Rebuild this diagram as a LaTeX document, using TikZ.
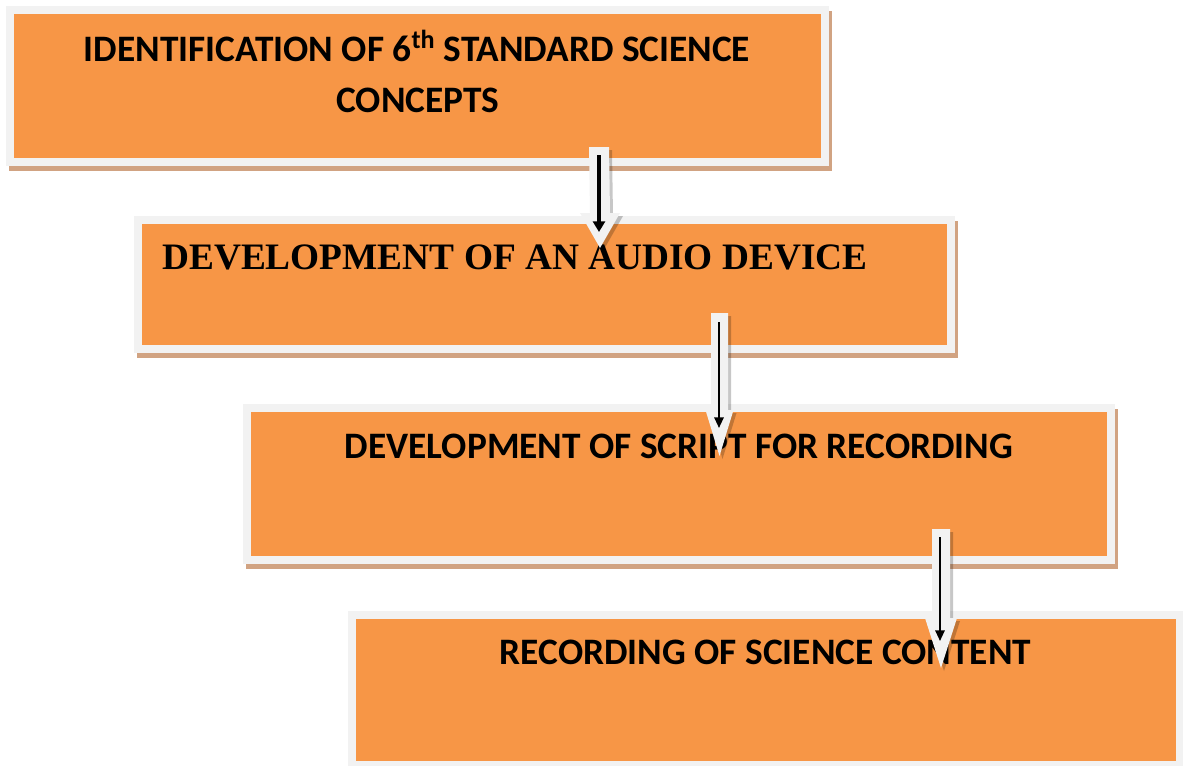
\documentclass[tikz,border=0pt]{standalone}
\usepackage{fontspec}
\newfontfamily\calibri{Carlito}
\newfontfamily\tnr{Liberation Serif}
\usetikzlibrary{calc,arrows.meta}
\definecolor{boxorange}{HTML}{F79646}
\definecolor{framegray}{HTML}{F2F2F2}
\definecolor{shadowbrown}{HTML}{D1A382}
% #1 options, #2 top coord, #3 tip coord, #4 shaft half width, #5 head half width, #6 head length
\newcommand\blockarr[6]{%
  \fill[#1] ($(#2)+(-#4,0)$) -- ($(#3)+(-#4,-#6)$) -- ($(#3)+(-#5,-#6)$) -- (#3)
    -- ($(#3)+(#5,-#6)$) -- ($(#3)+(#4,-#6)$) -- ($(#2)+(#4,0)$) -- cycle;}
\tikzset{
  stagebox/.style={draw=framegray, line width=6pt, fill=boxorange, inner sep=0pt,
    preaction={draw=shadowbrown, fill=shadowbrown, line width=6pt,
      transform canvas={shift={(2.25pt,-4.1pt)}}}},
  cal/.style={font=\calibri\bfseries\fontsize{28}{32}\selectfont, inner sep=0pt},
  tms/.style={font=\tnr\bfseries\fontsize{28}{32}\selectfont, inner sep=0pt},
  arrshade/.style={fill=black, opacity=0.22, transform canvas={shift={(2.25pt,-2.25pt)}}},
  arrbody/.style={fill=framegray},
  thickarr/.style={draw=black, line width=3pt, -{Triangle[width=9pt,length=8pt]}},
  thinarr/.style={draw=black, line width=1.5pt, -{Triangle[width=7pt,length=8pt]}}
}
\begin{document}
\begin{tikzpicture}[x=0.75pt,y=-0.75pt]
\useasboundingbox (0,0) rectangle (1183,765);
\clip (0,0) rectangle (1183,765);
% boxes
\node[stagebox, minimum width=611.25pt, minimum height=114pt] (b1) at (417.5,86) {};
\node[stagebox, minimum width=609.75pt, minimum height=96.75pt] (b2) at (544.5,284.5) {};
\node[stagebox, minimum width=648pt, minimum height=114pt] (b3) at (679,484) {};
\node[stagebox, minimum width=621pt, minimum height=112.5pt] (b4) at (766,690) {};
% texts
\node[cal, anchor=base] (t1a) at (417,61) {IDENTIFICATION OF 6\textsuperscript{th} STANDARD SCIENCE};
\node[cal, anchor=base] (t1b) at (418,112) {CONCEPTS};
\node[tms, anchor=base west] (t2) at (162,269) {DEVELOPMENT OF AN AUDIO DEVICE};
\node[cal, anchor=base] (t3) at (679,458) {DEVELOPMENT OF SCRIPT FOR RECORDING};
\node[cal, anchor=base] (t4) at (765.5,664) {RECORDING OF SCIENCE CONTENT};
% block arrow coordinates
\coordinate (a1t) at (599,147);
\coordinate (a1h) at (600,248);
\coordinate (a2t) at (719.5,313);
\coordinate (a2h) at (719.5,456);
\coordinate (a3t) at (941,529);
\coordinate (a3h) at (941,668);
\blockarr{arrshade}{a1t}{a1h}{10}{20}{35}
\blockarr{arrbody}{a1t}{a1h}{10}{20}{35}
\blockarr{arrshade}{a2t}{a2h}{8.5}{14}{46}
\blockarr{arrbody}{a2t}{a2h}{8.5}{14}{46}
\blockarr{arrshade}{a3t}{a3h}{9}{16}{50}
\blockarr{arrbody}{a3t}{a3h}{9}{16}{50}
% black arrows
\coordinate (k1s) at (599,155);
\coordinate (k1e) at (599,232);
\coordinate (k2s) at (719,322);
\coordinate (k2e) at (719,428);
\coordinate (k3s) at (940,537);
\coordinate (k3e) at (940,641);
\draw[thickarr] (k1s) -- (k1e);
\draw[thinarr] (k2s) -- (k2e);
\draw[thinarr] (k3s) -- (k3e);
\end{tikzpicture}
\end{document}
